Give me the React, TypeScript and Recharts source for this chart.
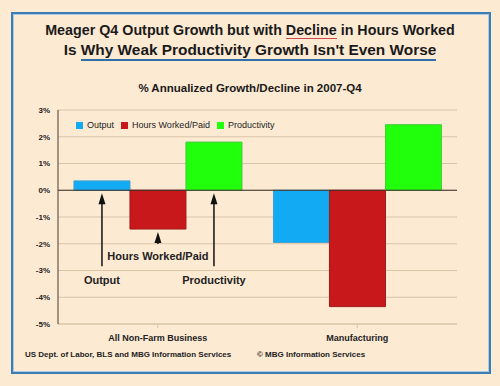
import React from "react";
import { Bar, BarChart, CartesianGrid, LabelList, Legend, ReferenceLine, XAxis, YAxis } from "recharts";

const categories = ["All Non-Farm Business", "Manufacturing"];
const output = [0.35, -1.95];
const hours = [-1.45, -4.35];
const productivity = [1.8, 2.45];
const yTicks = [-5, -4, -3, -2, -1, 0, 1, 2, 3];

const data = categories.map((name, i) => ({
  name,
  Output: output[i],
  "Hours Worked/Paid": hours[i],
  Productivity: productivity[i],
}));

const series = [
  { key: "Output", fill: "#12aaf2", stroke: "#3b9fd3" },
  { key: "Hours Worked/Paid", fill: "#c8181b", stroke: "#9d1a1a" },
  { key: "Productivity", fill: "#22ff0c", stroke: "#45c83a" },
];

const bg = "#fdead3";
const grid = "#d9c4a8";

// arrow + caption under the first group's bars
const arrowLabel = (text: string, tail: number, textGap: number) => (props: any) => {
  if (props.index !== 0) return null;
  const vb = props.viewBox || props;
  const x = Number(vb.x);
  const y = Number(vb.y);
  const w = Number(vb.width);
  const h = Number(vb.height);
  const cx = x + w / 2;
  const bottom = Math.max(y, y + h);
  const tip = bottom + 3;
  return (
    <g>
      <line x1={cx} x2={cx} y1={tip + 8} y2={bottom + tail} stroke="#111" strokeWidth={1.5} />
      <polygon points={`${cx},${tip} ${cx - 3.5},${tip + 11} ${cx + 3.5},${tip + 11}`} fill="#111" />
      <text x={cx} y={bottom + textGap} textAnchor="middle" fontSize={11} fontWeight="bold" fill="#222">
        {text}
      </text>
    </g>
  );
};

const LegendBox = () => (
  <div style={{ display: "flex", gap: 7, fontSize: 9, color: "#222", whiteSpace: "nowrap" }}>
    {series.map((s) => (
      <span key={s.key} style={{ display: "flex", alignItems: "center" }}>
        <span style={{ display: "inline-block", width: 7, height: 7, background: s.fill, marginRight: 4 }} />
        {s.key}
      </span>
    ))}
  </div>
);

export default function App() {
  return (
    <div style={{ position: "absolute", left: 0, top: 0, width: 500, height: 386, background: bg, fontFamily: "'Liberation Sans', Arial, sans-serif" }}>
      <div style={{ position: "absolute", left: 11, top: 12, width: 476, height: 358, border: "2px solid #3d7cb3", boxShadow: "inset 0 0 0 1px #a9cbe6" }} />
      <div style={{ position: "absolute", top: 20, width: 500, textAlign: "center", fontWeight: "bold", fontSize: 14.3, color: "#1a1a1a", lineHeight: "20px" }}>
        Meager Q4 Output Growth but with <span style={{ borderBottom: "1px solid #d04a4a" }}>Decline</span> in Hours Worked
      </div>
      <div style={{ position: "absolute", top: 40, width: 500, textAlign: "center", fontWeight: "bold", fontSize: 15.4, color: "#1a1a1a", lineHeight: "20px" }}>
        Is <span style={{ borderBottom: "2px solid #2f6fa8", paddingBottom: 1 }}>Why Weak Productivity Growth Isn't Even Worse</span>
      </div>
      <div style={{ position: "absolute", top: 82, width: 500, textAlign: "center", fontWeight: "bold", fontSize: 11.5, color: "#1a1a1a" }}>
        % Annualized Growth/Decline in 2007-Q4
      </div>
      <div style={{ position: "absolute", top: 0, left: 0 }}>
        <BarChart width={500} height={386} data={data} margin={{ top: 110, right: 43, bottom: 42, left: 0 }} barCategoryGap="8%" barGap={0}>
          <CartesianGrid vertical={false} stroke={grid} />
          <XAxis dataKey="name" stroke={grid} tickSize={4} height={20} tick={{ fill: "#222", fontSize: 9, fontWeight: "bold" }} tickMargin={7} />
          <YAxis domain={[-5, 3]} ticks={yTicks} width={58} stroke="#4a3b2e" tickSize={0} tickMargin={8} tickFormatter={(v) => `${v}%`} tick={{ fill: "#222", fontSize: 8, fontWeight: "bold" }} interval={0} />
          <YAxis yAxisId="r" orientation="right" domain={[-5, 3]} ticks={yTicks} width={0} stroke={grid} tick={false} tickLine={false} />
          <ReferenceLine y={0} stroke="#3a2e25" strokeWidth={1.2} />
          <Legend
            verticalAlign="middle"
            align="center"
            content={() => <LegendBox />}
            wrapperStyle={{ position: "absolute", top: 120, left: 76, width: 300, height: 12 }}
          />
          <Bar dataKey="Output" fill={series[0].fill} stroke={series[0].stroke} isAnimationActive={false}>
            <LabelList content={arrowLabel("Output", 76, 94)} />
          </Bar>
          <Bar dataKey="Hours Worked/Paid" fill={series[1].fill} stroke={series[1].stroke} isAnimationActive={false}>
            <LabelList content={arrowLabel("Hours Worked/Paid", 15, 31)} />
          </Bar>
          <Bar dataKey="Productivity" fill={series[2].fill} stroke={series[2].stroke} isAnimationActive={false}>
            <LabelList content={arrowLabel("Productivity", 76, 94)} />
          </Bar>
        </BarChart>
      </div>
      <div style={{ position: "absolute", top: 350, left: 25, fontSize: 8, fontWeight: "bold", color: "#222" }}>
        US Dept. of Labor, BLS and MBG Information Services
      </div>
      <div style={{ position: "absolute", top: 350, left: 257, fontSize: 8, fontWeight: "bold", color: "#222" }}>
        © MBG Information Services
      </div>
    </div>
  );
}
